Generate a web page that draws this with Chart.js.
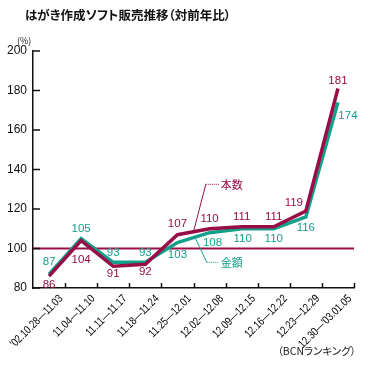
<!DOCTYPE html>
<html>
<head>
<meta charset="utf-8">
<script src="https://cdn.jsdelivr.net/npm/chart.js@4.4.1/dist/chart.umd.min.js"></script>
<style>
    body { margin: 0; background: #fff; }
    #wrap { position: relative; width: 368px; height: 366px; overflow: hidden; }
    #title { position: absolute; left: 25px; top: 5px; font: 700 12.5px 'Noto Sans CJK JP'; color: #111; white-space: nowrap; font-feature-settings: "palt"; }
    #unit { position: absolute; left: 17px; top: 34px; font: 9px 'Noto Sans CJK JP'; color: #222; font-feature-settings: "palt"; }
    #source { position: absolute; right: 12px; top: 343px; font: 10.5px 'Noto Sans CJK JP'; color: #222; white-space: nowrap; font-feature-settings: "palt"; }
    canvas { position: absolute; left: 0; top: 0; }
</style>
</head>
<body>
<div id="wrap">
    <canvas id="mainChart" width="368" height="366"></canvas>
    <div id="title">はがき作成ソフト販売推移（対前年比）</div>
    <div id="unit">(%)</div>
    <div id="source">（BCNランキング）</div>
</div>
<script>
// weekly periods (2002 -> 2003)
const weeks = ["'02.10.28—11.03", '11.04—11.10', '11.11—11.17', '11.18—11.24', '11.25—12.01',
               '12.02—12.08', '12.09—12.15', '12.16—12.22', '12.23—12.29', "12.30—'03.01.05"];
// 本数 (units), 金額 (amount), % vs previous year
const unitRatio = [86, 104, 91, 92, 107, 110, 111, 111, 119, 181];
const amountRatio = [87, 105, 93, 93, 103, 108, 110, 110, 116, 174];
const yTicks = [80, 100, 120, 140, 160, 180, 200];

const RED = '#990d47';
const TEAL = '#13a08a';

// value labels: [dx, dy] offsets from each point
const unitLabelPos = [[0, 9], [0, 19], [0, 8], [0, 8], [0, -11], [0, -10], [0, -10], [0, -10], [-12, -8], [0, -8]];
const amountLabelPos = [[0, -12], [0, -10], [0, -9], [0, -9], [0, 12], [3, 10], [1, 10], [0, 10], [0, 11], [10, 13]];

const extras = {
    id: 'extras',
    beforeDatasetsDraw(chart) {
        const { ctx, chartArea: a, scales: { x, y } } = chart;
        ctx.save();
        // 100% reference line
        ctx.strokeStyle = RED;
        ctx.lineWidth = 2;
        const y100 = y.getPixelForValue(100);
        ctx.beginPath(); ctx.moveTo(a.left, y100); ctx.lineTo(a.right, y100); ctx.stroke();

        // inward tick marks
        ctx.strokeStyle = '#111';
        ctx.lineWidth = 1.5;
        yTicks.forEach(v => {
            const py = y.getPixelForValue(v);
            ctx.beginPath(); ctx.moveTo(a.left, py); ctx.lineTo(a.left + 7, py); ctx.stroke();
        });
        for (let i = 0; i < weeks.length; i++) {
            const px = Math.round(x.getPixelForValue(i + 0.5)) + 0.5;
            ctx.beginPath(); ctx.moveTo(px, a.bottom); ctx.lineTo(px, a.bottom - 5); ctx.stroke();
        }

        // week labels, condensed and rotated 45deg
        ctx.fillStyle = '#000';
        ctx.font = "11.5px 'Liberation Sans', Arial, sans-serif";
        ctx.textAlign = 'right';
        ctx.textBaseline = 'middle';
        weeks.forEach((w, i) => {
            ctx.save();
            ctx.translate(x.getPixelForValue(i) + 12, a.bottom + 9);
            ctx.rotate(-Math.PI / 4);
            ctx.scale(0.8, 1);
            ctx.fillText(w, 0, 0);
            ctx.restore();
        });

        // leader lines for series names
        ctx.lineWidth = 1;
        const lbl1 = [x.getPixelForValue(5.35), y.getPixelForValue(132.5)];
        const lbl2 = [x.getPixelForValue(5.35), y.getPixelForValue(93)];
        ctx.strokeStyle = RED;
        ctx.beginPath();
        ctx.moveTo(x.getPixelForValue(4.5), y.getPixelForValue(108.5));
        ctx.lineTo(lbl1[0] - 15, lbl1[1]);
        ctx.stroke();
        ctx.setLineDash([1, 1]);
        ctx.beginPath(); ctx.moveTo(lbl1[0] - 15, lbl1[1]); ctx.lineTo(lbl1[0] - 2, lbl1[1]); ctx.stroke();
        ctx.setLineDash([]);
        ctx.strokeStyle = TEAL;
        ctx.beginPath();
        ctx.moveTo(x.getPixelForValue(4.55), y.getPixelForValue(105.5));
        ctx.lineTo(lbl2[0] - 14, lbl2[1]);
        ctx.stroke();
        ctx.setLineDash([1, 1]);
        ctx.beginPath(); ctx.moveTo(lbl2[0] - 14, lbl2[1]); ctx.lineTo(lbl2[0] - 2, lbl2[1]); ctx.stroke();
        ctx.setLineDash([]);

        ctx.font = "11px 'Noto Sans CJK JP'";
        ctx.textBaseline = 'middle';
        ctx.textAlign = 'left';
        ctx.fillStyle = RED;
        ctx.fillText('本数', lbl1[0], lbl1[1]);
        ctx.fillStyle = TEAL;
        ctx.fillText('金額', lbl2[0], lbl2[1]);
        ctx.restore();
    },
    afterDatasetsDraw(chart) {
        const { ctx } = chart;
        ctx.save();
        ctx.font = "11.5px 'Liberation Sans', Arial, sans-serif";
        ctx.textAlign = 'center';
        ctx.textBaseline = 'middle';
        [[0, unitRatio, unitLabelPos, RED], [1, amountRatio, amountLabelPos, TEAL]].forEach(([di, vals, pos, col]) => {
            const meta = chart.getDatasetMeta(di);
            ctx.fillStyle = col;
            meta.data.forEach((pt, i) => {
                ctx.fillText(String(vals[i]), pt.x + pos[i][0], pt.y + pos[i][1]);
            });
        });
        ctx.restore();
    }
};

new Chart(document.getElementById('mainChart'), {
    type: 'line',
    data: {
        labels: weeks,
        datasets: [{
            label: '本数',
            data: unitRatio,
            borderColor: RED,
            borderWidth: 3.5,
            pointRadius: 0,
            tension: 0
        }, {
            label: '金額',
            data: amountRatio,
            borderColor: TEAL,
            borderWidth: 3.5,
            pointRadius: 0,
            tension: 0
        }]
    },
    options: {
        responsive: false,
        animation: false,
        devicePixelRatio: 1,
        layout: { padding: { left: 0, right: 14, top: 51, bottom: 0 } },
        plugins: { legend: { display: false }, tooltip: { enabled: false } },
        scales: {
            x: {
                offset: true,
                grid: { display: false, drawTicks: false },
                border: { display: true, color: '#111', width: 1.5 },
                afterFit: s => { s.height = 78; },
                ticks: { display: false }
            },
            y: {
                min: 80,
                max: 200,
                grid: { display: false, drawTicks: false },
                border: { display: true, color: '#111', width: 1.5 },
                afterFit: s => { s.width = 33; },
                ticks: {
                    stepSize: 20,
                    padding: 6,
                    color: '#111',
                    font: { family: "'Liberation Sans', Arial, sans-serif", size: 12 }
                }
            }
        }
    },
    plugins: [extras]
});
</script>
</body>
</html>
